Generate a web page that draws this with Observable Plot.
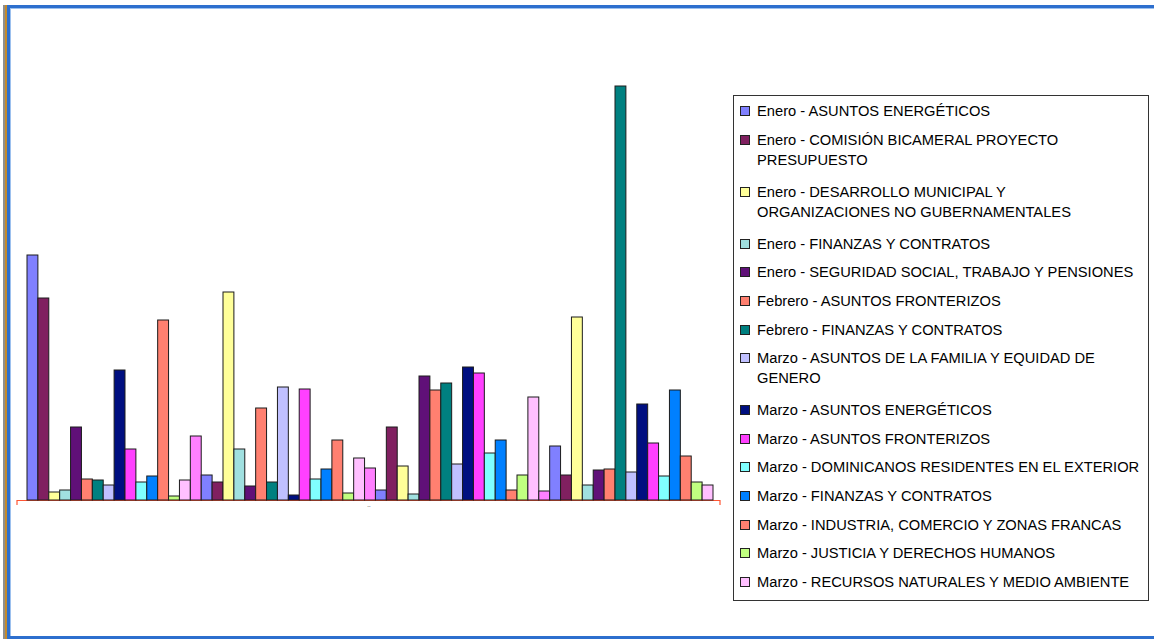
<!DOCTYPE html>
<html><head><meta charset="utf-8">
<script src="https://cdn.jsdelivr.net/npm/d3@7"></script>
<script src="https://cdn.jsdelivr.net/npm/@observablehq/plot@0.6"></script>
<style>
html,body{margin:0;padding:0;background:#fff;}
#page{position:relative;width:1154px;height:639px;overflow:hidden;background:#fff;font-family:"Liberation Sans",Arial,sans-serif;}
.b{position:absolute;}
#chart{position:absolute;left:0;top:0;}
#legend{position:absolute;left:733px;top:95px;border:1px solid #333;background:#fff;padding-top:5px;box-sizing:border-box;height:506px;width:416px;}
.item{display:flex;align-items:flex-start;padding-left:6px;}
.sw{width:8px;height:8px;border:1px solid #222;margin-top:5px;flex:none;}
.lab{margin-left:7px;font-size:14.7px;line-height:20px;white-space:pre;color:#000;}
</style></head>
<body>
<div id="page">
  <div class="b" style="left:3px;top:5px;width:2px;height:634px;background:#8e8e8e"></div>
  <div class="b" style="left:5px;top:5px;width:2px;height:634px;background:#c48a2c"></div>
  <div class="b" style="left:7px;top:5px;width:3px;height:634px;background:#2d6fce"></div>
  <div class="b" style="left:10px;top:8px;width:1px;height:628px;background:#9cc0ee"></div>
  <div class="b" style="left:7px;top:5px;width:1147px;height:3px;background:#2d6fce"></div>
  <div class="b" style="left:10px;top:8px;width:1144px;height:1px;background:#9cc0ee"></div>
  <div class="b" style="left:7px;top:636px;width:1147px;height:3px;background:#2d6fce"></div>
  <div id="chart"></div>
  <div id="legend"></div>
</div>
<script>
// Bar values (one bar per series, in series order)
const values = [245, 202, 8, 10, 73, 21, 20, 15, 130, 51, 18, 24, 180, 4, 20, 64,
                25, 18, 208, 51, 14, 92, 18, 113, 5, 111, 21, 31, 60, 7, 42, 32,
                10, 73, 34, 6, 124, 110, 117, 36, 133, 127, 47, 60, 10, 25, 103, 9,
                54, 25, 183, 15, 30, 31, 414, 28, 96, 57, 24, 110, 44, 18, 15];
// Excel-style series palette (cycles every 16 series)
const palette = ["#8080ff", "#802060", "#ffff99", "#a0e0e0", "#601078", "#ff8070", "#008080", "#c0c0ff",
                 "#000f80", "#ff40ff", "#80ffff", "#0080ff", "#ff8070", "#c0ff80", "#ffc0ff", "#ff80ff"];
// Legend entries (only the first 15 series are listed)
const legendNames = [
  "Enero - ASUNTOS ENERGÉTICOS",
  "Enero - COMISIÓN BICAMERAL PROYECTO\nPRESUPUESTO",
  "Enero - DESARROLLO MUNICIPAL Y\nORGANIZACIONES NO GUBERNAMENTALES",
  "Enero - FINANZAS Y CONTRATOS",
  "Enero - SEGURIDAD SOCIAL, TRABAJO Y PENSIONES",
  "Febrero - ASUNTOS FRONTERIZOS",
  "Febrero - FINANZAS Y CONTRATOS",
  "Marzo - ASUNTOS DE LA FAMILIA Y EQUIDAD DE\nGENERO",
  "Marzo - ASUNTOS ENERGÉTICOS",
  "Marzo - ASUNTOS FRONTERIZOS",
  "Marzo - DOMINICANOS RESIDENTES EN EL EXTERIOR",
  "Marzo - FINANZAS Y CONTRATOS",
  "Marzo - INDUSTRIA, COMERCIO Y ZONAS FRANCAS",
  "Marzo - JUSTICIA Y DERECHOS HUMANOS",
  "Marzo - RECURSOS NATURALES Y MEDIO AMBIENTE"
];
// Single category label
const categories = ["¨"];

const seriesIds = values.map((_, i) => i);
const table = values.map((v, i) => ({id: i, value: v}));

const opts = {width: 740, height: 520, marginLeft: 17, marginRight: 20, marginTop: 86, marginBottom: 20};
const axisColor = "#ff5533";

const chart = Plot.plot({
  ...opts,
  x: {type: "band", domain: seriesIds, padding: 0, insetLeft: 10, insetRight: 7, axis: null},
  y: {domain: [0, d3.max(values)], axis: null},
  color: {type: "ordinal", domain: seriesIds, range: palette},
  style: {background: "transparent", overflow: "visible", fontFamily: "Liberation Sans, Arial, sans-serif"},
  marks: [
    Plot.ruleY([0], {stroke: axisColor, strokeWidth: 1.2}),
    Plot.barY(table, {x: "id", y: "value", fill: "id", stroke: "#1c1c1c", strokeWidth: 1, inset: 0}),
    Plot.text(categories, {text: d => d, frameAnchor: "bottom", dy: 11, fill: "#888", fontSize: 9})
  ]
});

// end tick marks of the category axis at the frame edges
const y0 = chart.scale("y").apply(0);
const svg = d3.select(chart);
[opts.marginLeft, opts.width - opts.marginRight].forEach(x => {
  svg.append("line").attr("x1", x).attr("x2", x).attr("y1", y0).attr("y2", y0 + 5)
     .attr("stroke", axisColor).attr("stroke-width", 1.2);
});
document.getElementById("chart").appendChild(chart);

const legend = d3.select("#legend");
legendNames.forEach((name, i) => {
  const lines = name.split("\n").length;
  const it = legend.append("div").attr("class", "item")
    .style("margin-bottom", lines > 1 ? "12px" : "8.65px");
  it.append("div").attr("class", "sw").style("background", chart.scale("color").apply(i));
  it.append("div").attr("class", "lab").text(name);
});
</script>
</body></html>
